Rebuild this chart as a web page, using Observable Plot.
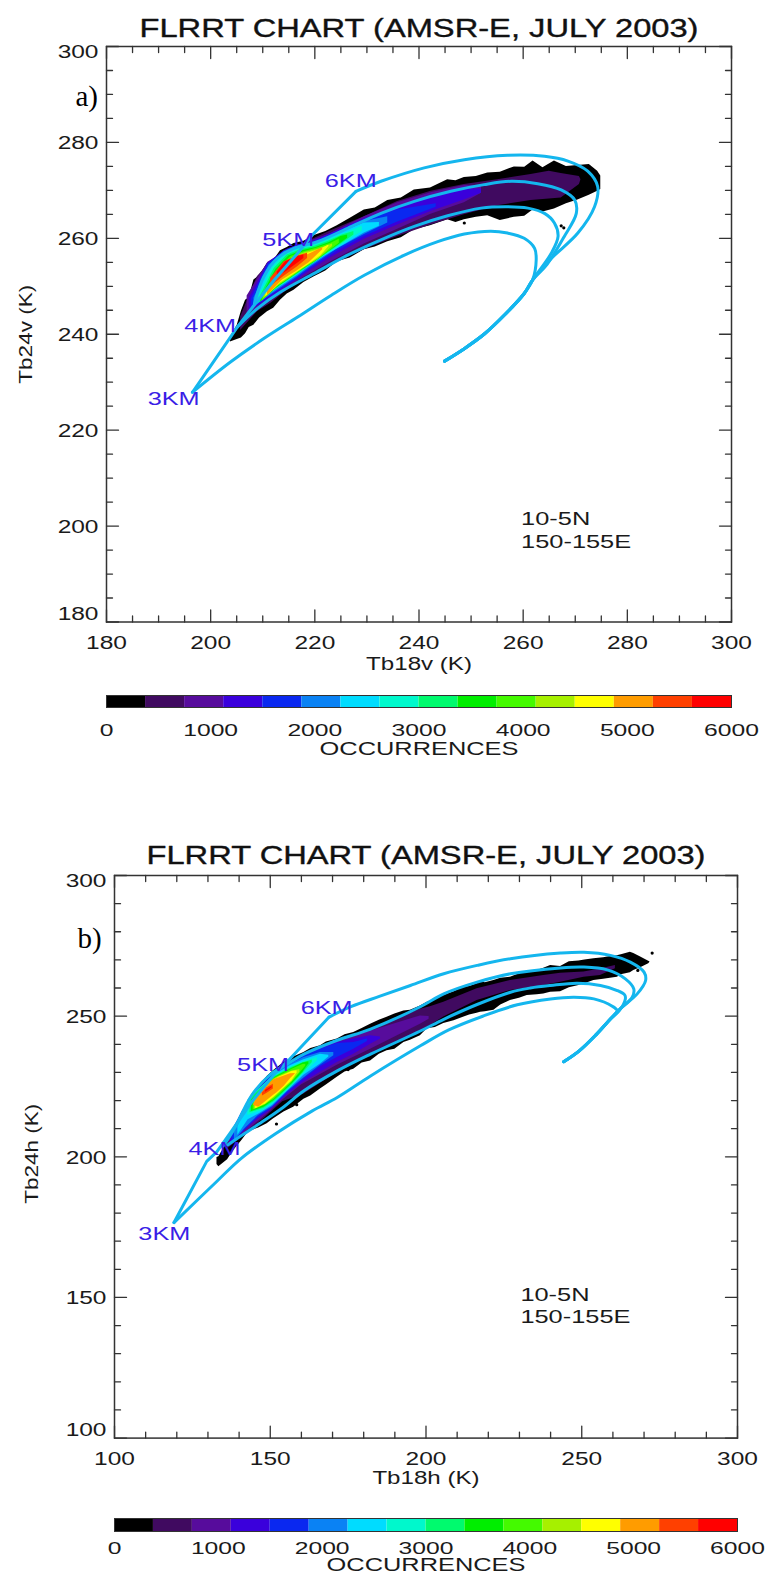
<!DOCTYPE html>
<html><head><meta charset="utf-8">
<script src="https://cdn.jsdelivr.net/npm/d3@7"></script>
<script src="https://cdn.jsdelivr.net/npm/@observablehq/plot@0.6"></script>
<style>html,body{margin:0;background:#fff}#root{position:relative;width:767px;height:1585px;overflow:hidden}
#root>div{position:absolute;left:0}svg{display:block}</style></head><body><div id="root"></div>
<script>
const occurrenceTicks=[0,1000,2000,3000,4000,5000,6000];
const bandThresholds=[375,750,1125,1500,1875,2250,2625,3000,3375,3750,4125,4500,4875,5250,5625];
const bandEdges=[0,...bandThresholds,6000];
const bandColors=["#000000","#400a60","#570c9c","#3a00dc","#0a28f0","#0a82f4","#00dcff","#00f8cc","#00fa6e","#00ee00","#44fa00","#a6f000","#ffff00","#ff9c00","#ff4000","#ff0000"];

// panel a: [Tb18v, lower Tb24v, upper Tb24v]
const aBand0=[[203.8,238.4,239.4],[205.1,238.9,241.9],[205.9,239.2,244.8],[206.7,240.1,247.1],[207.4,241.4,247.6],[208.3,241.9,251.3],[209.4,243.4,252.2],[210.9,244.7,254.8],[212.1,245.4,255.4],[213.4,247.1,257.4],[214.7,248.4,258.1],[216,249.2,258.9],[217.9,250.8,259.4],[219.9,252,260.6],[222.1,253.2,261.4],[224.3,255.1,262.6],[226.8,255.9,264.2],[229.5,257.6,265.9],[231.6,258.2,266.3],[234,259.3,267.9],[236.6,260.1,268.4],[239.1,261.8,270.1],[242.2,262.6,270.5],[245.5,263.9,272.2],[247.1,263.3,272],[248.7,263.9,272.7],[251,264.4,272.9],[253.2,264.7,273.6],[255.6,263.7,273.8],[258.3,264.4,274.9],[260.3,264.6,274.8],[261.9,265.9,276.1],[263.8,265.5,274.7],[266,266.1,276.1],[268.3,267.2,275],[270.5,268,275.2],[272.7,269,275.4],[274.3,269.8,274],[274.9,270.2,273]];
const aBand1=[[205.75,240.8,243.6],[208.96,244.7,252],[211.5,246.4,255.1],[214.7,249.2,257.8],[217.9,251.3,259],[223.1,254.4,261.6],[229.5,257.6,264.5],[235.9,260.4,267.7],[242.3,262.8,269.8],[248.7,264.9,271.2],[255.1,266.8,272.2],[261.5,267.9,273.3],[265,268.2,274],[267.3,268.4,273.5],[270.8,271.2,272.9],[271.1,272.2,272.2]];
const aBand2=[[207,244,248],[211,246.8,255],[214.7,249.6,257.5],[217.9,251.9,258.9],[223.1,255.1,261],[229.5,258.8,264.5],[235.9,261.9,267.4],[242.3,265,269.5],[248.7,267.4,271],[252,269.4,271]];
const aBand3=[[207.4,244.7,247.5],[211,247.2,254.8],[214.1,249.5,257.4],[216.7,251.4,258.6],[219.2,253.3,259.2],[223.1,256,261],[229.5,259.8,264.1],[235.9,262.8,266.5],[242.3,265.6,268.6],[248.7,268,270.3],[252,269.4,270.3]];
const aBand4=[[207.8,245.2,247.3],[211,247.6,254.6],[214.1,249.8,257.3],[216.7,251.7,258.5],[219.2,253.7,259],[224.3,257.3,261.3],[229.5,260.4,263.8],[235.9,263.4,265.9],[243.3,266.5,267.2]];
const aBand5=[[208.3,245.7,247.5],[211.2,247.9,254.4],[214.1,250.1,257.2],[216.7,252,258.4],[219.2,254,258.8],[224.3,257.8,261],[229.5,260.8,263.5],[234,263.2,264.5]];
const aBand6=[[208.6,246,247.8],[211.5,248.5,254.1],[214.1,250.4,257],[216.7,252.3,258.1],[219.2,254.4,258.6],[221.8,256.2,259.7],[225.6,258.6,261.4],[229.5,261.1,263.2],[232.4,262.5,263.3]];
const aBand7=[[209,246.3,247.4],[211.8,248.8,253.9],[214.4,250.7,256.7],[217,252.7,257.8],[219.5,254.6,258.5],[222.1,256.5,259.5],[225.6,259,261],[229.1,261.4,262.5]];
const aBand8=[[209.3,246.5,247.4],[212.2,249.2,253.7],[214.7,251.1,256.5],[217.3,253,257.6],[219.9,254.9,258.3],[222.4,256.9,259.3],[225.3,259,260.7],[227.5,260.7,261.4]];
const aBand9=[[209.6,246.7,247.4],[212.5,249.5,253.5],[215,251.4,256.3],[217.6,253.4,257.4],[220.2,255.2,258.1],[222.7,257.2,259.1],[225,259,260.4],[226.3,260,260.7]];
const aBand10=[[209.9,246.9,247.4],[212.8,249.9,253.4],[215.4,251.8,256.2],[217.9,253.7,257.2],[220.5,255.5,258],[223.1,257.6,259],[224.7,259,259.8]];
const aBand11=[[210.2,247.4,248.1],[213.1,250.2,253.2],[215.7,252.1,256],[218.3,254.1,257.1],[220.8,255.8,257.8],[223.4,258.3,258.8]];
const aBand12=[[210.6,247.8,248.8],[213.4,250.7,253],[216,252.5,255.8],[218.6,254.4,256.9],[221.1,256.3,257.7],[222.7,258.3,258.6]];
const aBand13=[[210.9,248.1,249.5],[213.8,251.3,254.4],[216.3,253,255.6],[218.9,254.9,256.7],[221.5,257.6,258.1]];
const aBand14=[[211.5,249.9,251.6],[214.1,252.1,255.1],[216.7,254.1,256.3],[218.6,255.8,256.9]];
const aBand15=[[212.8,252,253],[214.4,253,255.1],[216.7,254.8,256.2],[217.9,255.8,256.5]];
const aBands=[aBand0,aBand1,aBand2,aBand3,aBand4,aBand5,aBand6,aBand7,aBand8,aBand9,aBand10,aBand11,aBand12,aBand13,aBand14,aBand15];
const aSpecks=[[248.7,263.2],[267.3,262.6],[267.8,262.2]];

const aTrunk=[[244.9,234.4],[248.7,237],[252.6,240.1],[256.4,244],[260.2,248.5],[261.8,251.3]];
const a3km=[[262.5,255.5],[262.2,257.9],[260.2,260],[257,261.1],[253.8,261.5],[248.7,260.9],[243.6,259.3],[237.2,256.5],[229.5,252.3],[223.1,248.1],[216.7,243.6],[210.2,239.1],[203.8,234.2],[196.5,227.9]];
const a4km=[[265.4,256.9],[266.7,260.4],[266,263.2],[264.1,265.2],[260.9,266.3],[257,266.6],[251.9,266.3],[245.5,264.7],[239.1,262.5],[232.7,259.7],[226.3,256.5],[219.9,252.7],[213.4,248.8],[209,245.4],[205.1,241.5]];
const a5km=[[264.6,254.6],[267.9,260.4],[270.2,265.2],[269.9,268],[267.3,270.1],[262.8,271.4],[257.7,271.9],[252.5,271.2],[246.1,269.8],[239.1,267.7],[232.7,265.2],[226.3,262.1],[220.5,259.3],[216,257.9],[212.8,255.8],[210.2,252],[208.4,246.4]];
const a6km=[[265.4,255.8],[270.5,261.1],[273.7,266.6],[274.3,270.8],[272.4,274],[268.6,276.1],[264.1,277.1],[257,277.3],[248.7,276.4],[241,274.7],[232.7,271.9],[227.9,269.8]];
const aAltitude=[[227.9,269.8],[219.5,260.7],[216.7,256.9],[212.2,251.3],[208.6,246.4],[205.1,241.5],[203.8,239.4],[196.5,227.9]];

// panel b: [Tb18h, lower Tb24h, upper Tb24h]
const bBand0=[[132.9,196.5,199],[133.5,195.7,199.3],[136.3,198.2,204.6],[138.3,201.6,208.6],[140.7,204.8,212.9],[142.6,207.6,217],[144,208.6,221.2],[146.3,209.6,224.2],[149,211.1,228],[151,212.8,230.1],[154.4,215.3,233],[157.5,217,235],[160.8,219.9,236.6],[163,221,238],[166.1,223.5,239],[168,225,240.4],[171.5,227.7,241.4],[174,229.6,243],[176.8,230.6,243.8],[179.5,232.8,245.2],[182.2,233.6,246.7],[185,236,248.2],[187.5,237.2,249.2],[190,237.8,250.4],[192.9,240.2,251.5],[195,241,251.7],[198.2,242.6,253.3],[200.4,245.1,254.6],[203,245.6,255.5],[205.7,247,257],[209,248,258.4],[212,249.2,260],[214,250,260.2],[216.4,250.7,261.2],[217.5,251,262.2],[219,251.2,261.6],[221.8,251.7,262.4],[224,253.6,263.2],[227.1,255.2,263.6],[230,256,264.8],[232.5,257,265.4],[235.7,257.3,266],[237.8,257.6,266.8],[240,258.2,267.8],[243.2,258.4,267.4],[246,259.8,269.1],[249.1,260.6,269.4],[251,261.2,269.7],[253.9,262.4,270.2],[257,262.8,270.5],[259.2,263.2,271],[261.4,263.6,271.3],[263,264.5,271.7],[265.6,265.2,272.5],[266.7,266,272.1],[268.9,267,270.8],[271.5,268.4,269.3],[271.9,268.9,269]];
const bBand1=[[136.3,202,205],[139.6,205,212],[144,209.3,221.5],[148.4,213.3,227.2],[154,219,232.6],[160.8,221.7,235.6],[171.5,229.4,240.4],[182.2,235.4,244.8],[192.9,241.4,249.7],[198.2,244.4,252.1],[201.4,246.3,253],[205.7,249.3,254.6],[216.4,255.2,259.4],[227.1,258.8,262.4],[237.8,260.6,264.2],[243.2,261.8,265],[250.7,263.6,265.4],[256,264.2,266.5],[260.8,266.6,267.8]];
const bBand2=[[136.8,202.8,206],[140.1,206,213],[144.6,210.5,221.5],[149,214.5,227.2],[154.5,220,232.3],[160,225,235.3],[171.5,232,240.6],[182.2,237.8,244.2],[192.9,243.8,247.9],[198.2,246.7,249.7],[201,248.5,249.5]];
const bBand3=[[137.3,203.5,207.5],[141,207.8,215.5],[145.1,212,222],[149.5,215.5,227.3],[155.1,221,232.2],[160.8,226,235.6],[171.5,233,240.2],[176.8,236,241.4],[182.2,239.6,242.6],[185.4,241.4,242.2]];
const bBand4=[[137.8,204,207.5],[142,209,216.8],[146,213.2,223],[150.1,216.3,227.8],[155.6,222,232],[160.8,227,235.4],[166.1,231.5,237.8],[171.5,234.8,239.8],[176.8,237.8,240.2],[181.2,240.5,241.4]];
const bBand5=[[138.5,205,208],[142,209.5,216.5],[146.2,214,222.8],[150.7,217.2,228.2],[155.4,222.5,231.9],[160.8,227.5,234.8],[166.1,232,236.6],[170.4,235.4,236.6]];
const bBand6=[[139.6,207,210],[142.9,212.5,218],[146.2,214.5,223],[150.7,217.6,228],[156.2,223.5,231.8],[160.8,228.5,234],[166.1,232.5,236],[168.8,235,235.6]];
const bBand7=[[142.8,214,219.5],[148,216,225.1],[151.2,218.6,228.1],[153,220.4,229.2],[157,224.5,231.6],[160.8,229,233.4],[165.1,233.6,234.8]];
const bBand8=[[143.5,215,220],[148,216.6,224.8],[151.2,219,227.8],[153,220.8,228.9],[157,225,231.3],[160.8,229.5,233],[163.5,233,233.9]];
const bBand9=[[144,215.5,219.5],[148,217,224.4],[151.2,219.4,227.5],[153,221.2,228.6],[157,225.4,231],[160.5,229.5,232.8],[162.4,232.6,233.3]];
const bBand10=[[144.5,216,219.2],[148,217.5,224.2],[151.2,219.8,227.3],[153,221.6,228.3],[157,225.9,230.6],[160.5,230.5,232.3],[161.4,231.8,232.4]];
const bBand11=[[144.9,216.3,219],[148.5,218,224.2],[151.2,220.3,227],[152.8,221.9,228],[157,226.2,230],[159.5,229.5,230.5]];
const bBand12=[[145.3,216.5,219],[148.5,218.2,224],[151.2,220.6,226.7],[152.8,222.2,227.7],[157,226.5,229.8],[158.6,229.3,230.1]];
const bBand13=[[144.7,217.6,218],[146.3,217,221.5],[148,218.5,223.8],[151.1,221.3,226.8],[152.2,222.2,227.3],[154.5,224.5,228.2],[156.5,227.2,229],[158,228.9,229.1]];
const bBand14=[[147.5,221,222.2],[149,222,224],[151,223.5,225.2]];
const bBand15=[[148.5,222.4,223],[150.6,224,224.4]];
const bBands=[bBand0,bBand1,bBand2,bBand3,bBand4,bBand5,bBand6,bBand7,bBand8,bBand9,bBand10,bBand11,bBand12,bBand13,bBand14,bBand15];
const bSpecks=[[272.6,272.2],[268,266],[158.5,217.9],[175,230.5],[152,211]];

const bTrunk=[[244.2,233.3],[249.2,237.2],[254.7,243.1],[259.2,248.6]];
const b3km=[[261.4,251.5],[259.8,253.2],[253.9,255.8],[247.5,256.4],[240,255.8],[229.3,253.7],[218.2,249.6],[207.3,244.7],[198.2,239],[182.2,228.2],[171.5,220.5],[163.5,215.7],[151.8,207.6],[140.7,198.7],[132.9,190.5],[119.1,175.7]];
const b4km=[[262,251.5],[264,255.8],[263.8,257.2],[261.4,258.8],[256,260.6],[248.5,261.4],[240,260.6],[233.5,259.7],[227.1,258.2],[216.4,253.8],[205.7,248.5],[198.2,244.3],[182.2,236],[171.5,230],[160.8,222.9],[154.4,217.2],[148.4,212.5],[143,208.5],[136.3,203.5]];
const b5km=[[262.4,252.3],[266.2,256.4],[266.7,259.4],[264,263],[258.2,266.2],[250.7,267.2],[243.2,266.9],[227.1,264.8],[216.4,261.8],[205.7,257.6],[198.2,253],[182.2,245],[171.5,241],[160.8,236],[155.4,232.4],[150.1,228.8],[144,221.2],[138.5,209.4],[135.2,203.5]];
const b6km=[[262.4,252.3],[267.8,257.6],[270.5,262.4],[270,265.4],[265.6,269],[259.2,271.4],[250.7,272.5],[243.2,272.2],[227.1,270.2],[216.4,267.8],[205.7,264.8],[195,260.6],[185,256.7],[176.1,253.1],[168.9,249.3]];
const bAltitude=[[168.9,249.3],[156.2,234.2],[151.8,229.5],[144,218.8],[137.4,208.2],[132.9,201.1],[129.6,197.6],[119.1,175.7]];

const kmNames=["3KM","4KM","5KM","6KM"];
const aKmX=[192.9,199.9,214.9,226.9], aKmY=[226.5,241.7,259.7,271.9];
const bKmX=[116,132.1,147.7,168.1], bKmY=[171.5,201.9,232,252.5];

const titleText="FLRRT CHART (AMSR-E, JULY 2003)";
const regionLines=["10-5N","150-155E"];
const aMajorX=[180,200,220,240,260,280,300], aMinorX=[185,190,195,205,210,215,225,230,235,245,250,255,265,270,275,285,290,295];
const aMajorY=aMajorX, aMinorY=aMinorX;
const bMajorX=[100,150,200,250,300], bMinorX=[110,120,130,140,160,170,180,190,210,220,230,240,260,270,280,290];
const bMajorY=bMajorX, bMinorY=bMinorX;

const ink="#1a1a1a", frameInk="#333", cyan="#14b6ee", kmBlue="#3a1ee6", sans="Liberation Sans";
const colorOpt={type:"threshold",domain:bandThresholds,range:bandColors};
const tickShape={draw(c,l){c.moveTo(0,0);c.lineTo(0,-l);}};
const bandRows=(bands,cal)=>bands.flatMap((b,i)=>b.map(([x,lo,hi])=>({x,lo:cal(lo),hi:cal(hi),occ:bandEdges[i]+1})));
const lineRows=(name,pts,cal)=>pts.map(([x,y])=>({x,y:cal(y),name}));

function panel(o){
  const [x0,x1]=o.xd,[y0,y1]=o.yd, cal=o.cal;
  const side=(xs,fx,fy,len,rot)=>Plot.vector(xs,{x:fx,y:fy,length:len,rotate:rot,anchor:"start",shape:tickShape,stroke:frameInk,strokeWidth:1.3});
  const inner=o.majorY.filter(d=>d!==y0&&d!==y1);
  const yAxis=(ticks,dy)=>Plot.axisY({ticks,tickSize:0,tickPadding:8,fontSize:18,label:null,fill:ink,dy});
  return Plot.plot({width:767,height:o.h,marginLeft:o.ml,marginRight:o.mr,marginTop:o.mt,marginBottom:o.mb,
    x:{domain:o.xd,label:null},y:{domain:o.yd,label:null},color:colorOpt,
    style:{fontFamily:sans,background:"transparent",maxWidth:"none"},
    marks:[
      Plot.areaY(bandRows(o.bands,cal),{x:"x",y1:"lo",y2:"hi",z:"occ",fill:"occ"}),
      Plot.dot(o.specks,{x:d=>d[0],y:d=>cal(d[1]),r:1.6,fill:"black"}),
      ...o.loops.map(([n,pts])=>Plot.line(lineRows(n,[...o.trunk,...pts],cal),{x:"x",y:"y",stroke:cyan,strokeWidth:3,curve:"catmull-rom"})),
      Plot.line(lineRows("alt",o.altitude,cal),{x:"x",y:"y",stroke:cyan,strokeWidth:3}),
      Plot.text(kmNames,{x:(d,i)=>o.kmX[i],y:(d,i)=>cal(o.kmY[i]),fill:kmBlue,fontSize:19,className:"km"}),
      Plot.frame({stroke:frameInk,strokeWidth:1.5}),
      side(o.majorX,d=>d,()=>y0,12,0),side(o.minorX,d=>d,()=>y0,6,0),
      side(o.majorX,d=>d,()=>y1,12,180),side(o.minorX,d=>d,()=>y1,6,180),
      side(o.majorY,()=>x0,d=>d,12,90),side(o.minorY,()=>x0,d=>d,6,90),
      side(o.majorY,()=>x1,d=>d,12,-90),side(o.minorY,()=>x1,d=>d,6,-90),
      Plot.axisX({ticks:o.majorX,tickSize:0,tickPadding:14,fontSize:18,label:null,fill:ink}),
      yAxis(inner,1),yAxis([y1],6),yAxis([y0],-7.5),
      Plot.text([titleText],{frameAnchor:"top",dy:o.titleDy,fontSize:25,fill:"#111",stroke:"#111",strokeWidth:0.35}),
      Plot.text([o.xLabel],{frameAnchor:"bottom",dy:o.xLabelDy,fontSize:18,fill:ink}),
      Plot.text([o.yLabel],{frameAnchor:"left",textAnchor:"middle",dx:o.yLabelDx,dy:o.yLabelDy,rotate:-90,fontSize:18,fill:ink}),
      Plot.text(regionLines,{x:o.regionX,y:(d,i)=>cal(o.regionY[i]),textAnchor:"start",fontSize:18,fill:ink,className:"region"}),
      Plot.text([o.tag],{x:o.tagX,y:cal(o.tagY),fontSize:29,fill:"#000",fontFamily:"Liberation Serif",className:"serif"})
    ]});
}
function colorBar(o){
  return Plot.plot({width:767,height:o.h,marginLeft:o.ml,marginRight:o.mr,marginTop:o.mt,marginBottom:o.mb,
    x:{domain:[0,6000],label:null},color:colorOpt,
    style:{fontFamily:sans,background:"transparent",maxWidth:"none"},
    marks:[
      Plot.rect(bandColors,{x1:(d,i)=>bandEdges[i],x2:(d,i)=>bandEdges[i+1],fill:(d,i)=>bandEdges[i]+1}),
      Plot.frame({stroke:"#333",strokeWidth:1}),
      Plot.axisX({ticks:occurrenceTicks,tickSize:0,tickPadding:o.pad,fontSize:17,label:null,fill:ink,tickFormat:d=>String(d)}),
      Plot.text(["OCCURRENCES"],{frameAnchor:"bottom",dy:o.labelDy,fontSize:17.5,fill:ink})
    ]});
}
const root=document.getElementById("root");
function place(node,top,cls){const d=document.createElement("div");d.style.top=top+"px";if(cls)d.className=cls;d.appendChild(node);root.appendChild(d);}
place(panel({h:680,ml:106,mr:36,mt:46,mb:58.5,xd:[180,300],yd:[180,300],cal:y=>y,bands:aBands,specks:aSpecks,trunk:aTrunk,
  loops:[["3",a3km],["4",a4km],["5",a5km],["6",a6km]],altitude:aAltitude,kmX:aKmX,kmY:aKmY,
  majorX:aMajorX,minorX:aMinorX,majorY:aMajorY,minorY:aMinorY,titleDy:-27.5,
  xLabel:"Tb18v (K)",yLabel:"Tb24v (K)",xLabelDy:48,yLabelDx:-80,yLabelDy:0,regionX:259.6,regionY:[201.5,196.7],
  tag:"a)",tagX:176.2,tagY:289.5}),0);
place(colorBar({h:100,ml:106,mr:36,mt:15,mb:73,pad:16,labelDy:47}),680,"bar");
// panel b values were read against a 2.792 px/K ruler; the frame measures 2.813 px/K
place(panel({h:680,ml:114,mr:30,mt:55,mb:62.4,xd:[100,300],yd:[100,300],cal:y=>300-(300-y)*2.792/2.813,bands:bBands,specks:bSpecks,trunk:bTrunk,
  loops:[["3",b3km],["4",b4km],["5",b5km],["6",b6km]],altitude:bAltitude,kmX:bKmX,kmY:bKmY,
  majorX:bMajorX,minorX:bMinorX,majorY:bMajorY,minorY:bMinorY,titleDy:-29,
  xLabel:"Tb18h (K)",yLabel:"Tb24h (K)",xLabelDy:45.5,yLabelDx:-82,yLabelDy:-3,regionX:230.3,regionY:[149.6,141.7],
  tag:"b)",tagX:92,tagY:277.4}),820);
place(colorBar({h:85,ml:114,mr:30,mt:18,mb:54,pad:10,labelDy:39}),1500,"bar");
// the reference type is horizontally stretched
document.querySelectorAll("#root svg text").forEach(t=>{
  if(t.closest(".serif"))return;
  const s=t.textContent, w=t.getComputedTextLength();
  const k=/^Tb24/.test(s)?1.25:/^Tb18/.test(s)?1.34:t.closest(".km")?1.33:t.closest(".region")?1.41:t.closest(".bar")?1.45:1.36;
  t.setAttribute("textLength",s===titleText?559:w*k);
  t.setAttribute("lengthAdjust","spacingAndGlyphs");
});
</script></body></html>
